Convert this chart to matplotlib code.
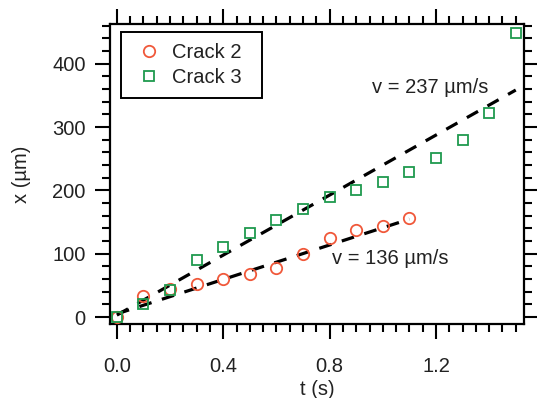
import numpy as np
import matplotlib.pyplot as plt
from matplotlib.ticker import MultipleLocator

plt.rcParams['font.family'] = ['Liberation Sans', 'DejaVu Sans']

# crack positions over time
t2 = [0.0, 0.1, 0.2, 0.3, 0.4, 0.5, 0.6, 0.7, 0.8, 0.9, 1.0, 1.1]
x2 = [0, 33, 44, 52, 60, 68, 78, 100, 125, 138, 143, 157]
t3 = [0.0, 0.1, 0.2, 0.3, 0.4, 0.5, 0.6, 0.7, 0.8, 0.9, 1.0, 1.1, 1.2, 1.3, 1.4, 1.5]
x3 = [0, 21, 43, 90, 111, 133, 153, 170, 189, 200, 214, 229, 251, 279, 322, 449]

# linear fits (slope in um/s, intercept in um, fit range)
fit2 = (136, 5, 0.0, 1.1)
fit3 = (237, 3, 0.0, 1.5)

c_red = '#f0583a'
c_green = '#1f9a4e'
ink = '#222222'
fs = 14.5


def main():
    fig = plt.figure(figsize=(5.37, 3.98), dpi=100)
    ax = fig.add_axes([0.2048, 0.186, 0.771, 0.754])

    for slope, icpt, t0, t1 in (fit2, fit3):
        tt = np.array([t0, t1])
        ax.plot(tt, slope * tt + icpt, color='black', lw=2.3,
                dashes=(4, 3.4), zorder=3)

    ax.plot(t2, x2, 'o', ms=8.2, mfc='none', mec=c_red, mew=1.3,
            label='Crack 2', zorder=4)
    ax.plot(t3, x3, 's', ms=6.8, mfc='none', mec=c_green, mew=1.3,
            label='Crack 3', zorder=4)

    ax.text(0.96, 363, 'v = 237 \u00b5m/s', fontsize=fs, color=ink, va='center')
    ax.text(0.81, 92, 'v = 136 \u00b5m/s', fontsize=fs, color=ink, va='center')

    ax.set_xlim(-0.026, 1.531)
    ax.set_ylim(-11, 463)
    ax.xaxis.set_major_locator(MultipleLocator(0.4))
    ax.xaxis.set_minor_locator(MultipleLocator(0.05))
    ax.yaxis.set_major_locator(MultipleLocator(100))
    ax.yaxis.set_minor_locator(MultipleLocator(20))
    ax.xaxis.set_major_formatter(plt.FuncFormatter(lambda v, p: f'{v:.1f}'))

    for s in ax.spines.values():
        s.set_linewidth(1.6)
    ax.tick_params(which='both', direction='out', top=True, right=True,
                   width=1.5, colors='black', labelcolor=ink, labelsize=fs)
    ax.tick_params(which='major', length=10.5)
    ax.tick_params(which='minor', length=5.5)
    ax.tick_params(axis='x', pad=13)
    ax.tick_params(axis='y', pad=7)

    ax.set_xlabel('t (s)', fontsize=fs, color=ink, labelpad=3)
    ax.set_ylabel('x (\u00b5m)', fontsize=fs, color=ink, labelpad=15)

    leg = ax.legend(loc='upper left', bbox_to_anchor=(0.0266, 0.0, 0.3406, 0.973),
                    mode='expand', borderaxespad=0, fancybox=False,
                    edgecolor='black', fontsize=fs, handlelength=1.7,
                    handletextpad=0.3, borderpad=0.55, labelspacing=0.3,
                    labelcolor=ink)
    leg.get_frame().set_linewidth(1.4)
    leg.get_frame().set_alpha(1)

    fig.savefig('out.png', dpi=100)


if __name__ == "__main__":
    main()
